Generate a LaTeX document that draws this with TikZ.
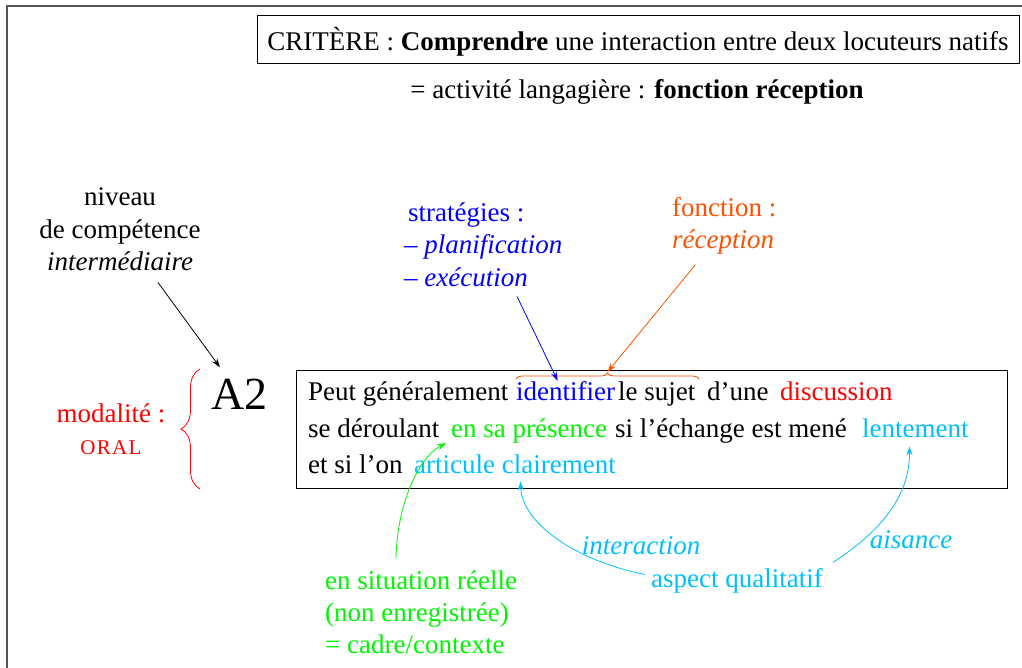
\documentclass[tikz,border=0pt]{standalone}
\usepackage{fontspec}
\setmainfont{Liberation Serif}
\usetikzlibrary{arrows.meta,decorations.pathreplacing,calc}
\definecolor{cblue}{RGB}{0,0,255}
\definecolor{cred}{RGB}{255,0,0}
\definecolor{corange}{RGB}{255,80,0}
\definecolor{cgreen}{RGB}{0,245,0}
\definecolor{ccyan}{RGB}{0,191,255}
\definecolor{cframe}{RGB}{85,85,85}
\newcommand\msz{\fontsize{27}{32.5}\selectfont}
\begin{document}
\begin{tikzpicture}[x=1pt,y=-1pt,
  txt/.style={inner sep=0pt, anchor=base west, font=\msz},
  ctxt/.style={inner sep=0pt, anchor=base, font=\msz},
  arr/.style={-{Stealth[length=9pt,width=6pt]}, line width=0.8pt},
  bracestyle/.style={line width=0.8pt, decorate},
  ]
\useasboundingbox (0,0) rectangle (1022,668);
% outer frame (only top and left edges visible)
\coordinate (fbl) at (7,668);
\coordinate (ftl) at (7,6);
\coordinate (ftr) at (1022,6);
\draw[cframe, line width=1.3pt] (fbl) -- (ftl) -- (ftr);

% title
\node[draw, line width=0.8pt, font=\msz, inner xsep=0pt, minimum width=762pt,
      text height=26pt, text depth=2pt, inner ysep=10pt, anchor=base] (title) at (638,51)
      {CRITÈRE : \textbf{Comprendre} une interaction entre deux locuteurs natifs};
\node[ctxt] (activ) at (637,99) {= activité langagière : \textbf{fonction réception}};

% niveau
\node[ctxt] (niv1) at (120,206) {niveau};
\node[ctxt] (niv2) at (120,239) {de compétence};
\node[ctxt] (niv3) at (120,271) {\itshape intermédiaire};

% A2
\node[inner sep=0pt, anchor=base west, font=\fontsize{46}{50}\selectfont] (a2) at (211,409) {A2};
\draw[arr] ($(niv3.south)+(38,11)$) -- ($(a2.north west)+(9,-11)$);

% modalite
\node[ctxt, text=cred] (moda) at (111,422) {modalité :};
\node[inner sep=0pt, anchor=base, text=cred, font=\fontsize{21}{22}\selectfont] (oral) at (111,454)
   {O\kern1.3pt R\kern1.3pt A\kern1.3pt L};
\coordinate (rbB) at (200,489);
\coordinate (rbT) at (200,369);
\draw[cred, bracestyle, decoration={brace, amplitude=19pt}] (rbB) -- (rbT);

% main box
\node[draw, line width=1pt, minimum width=711pt, minimum height=118pt, inner sep=0pt] (box) at (651.5,429) {};
\node[txt] (l1a) at (308,400) {Peut généralement};
\node[txt, text=cblue] (ident) at (516,400) {identifier};
\node[txt] (l1b) at (618,400) {le sujet};
\node[txt] (l1c) at (707,400) {d’une};
\node[txt, text=cred] (disc) at (780,400) {discussion};
\node[txt] (l2a) at (308,437) {se déroulant};
\node[txt, text=cgreen] (pres) at (451,437) {en sa présence};
\node[txt] (l2b) at (615,437) {si l’échange est mené};
\node[txt, text=ccyan] (lent) at (862,437) {lentement};
\node[txt] (l3a) at (308,473) {et si l’on};
\node[txt, text=ccyan] (artic) at (414,473) {articule clairement};

% orange brace over "identifier le sujet"
\coordinate (obL) at (516,379);
\coordinate (obR) at (699,379);
\coordinate (obtip) at (607.5,372);
\draw[corange, bracestyle, decoration={brace, amplitude=6pt}] (obL) -- (obR);

% strategies
\node[txt, text=cblue] (strat) at (408,222) {stratégies :};
\node[txt, text=cblue] (plan) at (404,254) {– \textit{planification}};
\node[txt, text=cblue] (exec) at (404,287) {– \textit{exécution}};
\draw[arr, cblue] ($(exec.south)+(51,9)$) -- ($(ident.north)+(-8,0)$);

% fonction
\node[txt, text=corange] (fonc) at (672,217) {fonction :};
\node[txt, text=corange] (recep) at (672,249) {\textit{réception}};
\draw[arr, corange] ($(recep.south)+(-28,10)$) -- (obtip);

% green
\node[txt, text=cgreen] (g1) at (325,589) {en situation réelle};
\node[txt, text=cgreen] (g2) at (325,621) {(non enregistrée)};
\node[txt, text=cgreen] (g3) at (325,653) {= cadre/contexte};
\draw[arr, cgreen] ($(g1.north west)+(71,-12)$) .. controls (397,505) and (418,458) .. ($(pres.south west)+(-5,0)$);

% cyan
\node[ctxt, text=ccyan] (aspect) at (737,587) {aspect qualitatif};
\node[ctxt, text=ccyan, font=\msz\itshape] (inter) at (641,554) {interaction};
\node[ctxt, text=ccyan, font=\msz\itshape] (ais) at (911,548) {aisance};
\draw[arr, ccyan] ($(aspect.west)+(-6,-6)$) .. controls (580,562) and (522,525) .. ($(artic.south)+(5.5,8)$);
\draw[arr, ccyan] ($(aspect.east)+(10,-18)$) .. controls (875,535) and (910,500) .. ($(lent.south)+(-6,9)$);
\end{tikzpicture}
\end{document}
